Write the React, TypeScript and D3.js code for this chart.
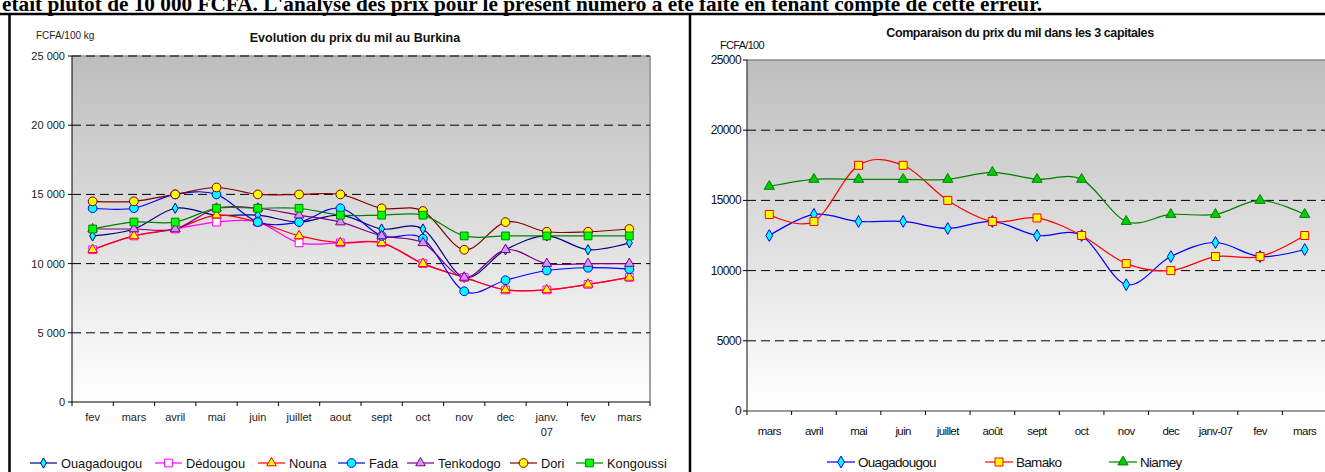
import React from 'react';
import * as d3 from 'd3';

// ---------- Data: left chart (Burkina) ----------
const leftCats = ["fev", "mars", "avril", "mai", "juin", "juillet", "aout", "sept", "oct", "nov", "dec", "janv.|07", "fev", "mars"];
const ouaga = [12000, 12500, 14000, 13500, 13500, 13000, 13500, 12500, 12500, 9000, 11000, 12000, 11000, 11500];
const dedougou = [11000, 12000, 12500, 13000, 13000, 11500, 11500, 11500, 10000, 9000, 8100, 8100, 8500, 9000];
const nouna = [11000, 12000, 12500, 13500, 13000, 12000, 11500, 11500, 10000, 9000, 8100, 8100, 8500, 9000];
const fada = [14000, 14000, 15000, 15000, 13000, 13000, 14000, 12000, 11800, 8000, 8800, 9500, 9700, 9600];
const tenkodogo = [12500, 12500, 12500, 14000, 14000, 13500, 13000, 12000, 11500, 9000, 11000, 10000, 10000, 10000];
const dori = [14500, 14500, 15000, 15500, 15000, 15000, 15000, 14000, 13800, 11000, 13000, 12300, 12300, 12500];
const kongoussi = [12500, 13000, 13000, 14000, 14000, 14000, 13500, 13500, 13500, 12000, 12000, 12000, 12000, 12000];
const leftTicks = [0, 5000, 10000, 15000, 20000, 25000];

// ---------- Data: right chart (3 capitales) ----------
const rightCats = ["mars", "avril", "mai", "juin", "juillet", "août", "sept", "oct", "nov", "dec", "janv-07", "fev", "mars"];
const ouagaR = [12500, 14000, 13500, 13500, 13000, 13500, 12500, 12500, 9000, 11000, 12000, 11000, 11500];
const bamako = [14000, 13500, 17500, 17500, 15000, 13500, 13750, 12500, 10500, 10000, 11000, 11000, 12500];
const niamey = [16000, 16500, 16500, 16500, 16500, 17000, 16500, 16500, 13500, 14000, 14000, 15000, 14000];
const rightTicks = [0, 5000, 10000, 15000, 20000, 25000];

type Series = { name: string; values: number[]; line: string; fill: string; stroke: string; shape: string; size: number };

const leftSeries: Series[] = [
  { name: "Ouagadougou", values: ouaga, line: "#000080", fill: "#00ffff", stroke: "#000080", shape: "diamond", size: 30 },
  { name: "Dédougou", values: dedougou, line: "#ff00ff", fill: "#ffffff", stroke: "#ff00ff", shape: "square", size: 60 },
  { name: "Nouna", values: nouna, line: "#ff0000", fill: "#ffff00", stroke: "#ff0000", shape: "triangle", size: 40 },
  { name: "Fada", values: fada, line: "#0000ff", fill: "#00ffff", stroke: "#0000ff", shape: "circle", size: 60 },
  { name: "Tenkodogo", values: tenkodogo, line: "#800080", fill: "#cc99ff", stroke: "#800080", shape: "triangle", size: 40 },
  { name: "Dori", values: dori, line: "#800000", fill: "#ffff00", stroke: "#800000", shape: "circle", size: 60 },
  { name: "Kongoussi", values: kongoussi, line: "#008000", fill: "#00ff00", stroke: "#008000", shape: "square", size: 60 },
];

const rightSeries: Series[] = [
  { name: "Ouagadougou", values: ouagaR, line: "#0000ff", fill: "#00ffff", stroke: "#0000ff", shape: "diamond", size: 40 },
  { name: "Bamako", values: bamako, line: "#ff0000", fill: "#ffff00", stroke: "#ff0000", shape: "square", size: 64 },
  { name: "Niamey", values: niamey, line: "#008000", fill: "#00cc00", stroke: "#008000", shape: "triangle", size: 45 },
];

const symbolOf = (s: string) =>
  s === "diamond" ? d3.symbolDiamond : s === "square" ? d3.symbolSquare : s === "triangle" ? d3.symbolTriangle : d3.symbolCircle;

const Marker = ({ s, x, y }: { s: Series; x: number; y: number }) => (
  <path
    d={d3.symbol().type(symbolOf(s.shape)).size(s.size)() as string}
    transform={`translate(${x},${y})`}
    fill={s.fill}
    stroke={s.stroke}
    strokeWidth={1}
  />
);

const FONT = "'Liberation Sans', Arial, sans-serif";

function LeftChart() {
  const x = d3.scaleBand<number>().domain(d3.range(leftCats.length)).range([72, 650]);
  const y = d3.scaleLinear().domain([0, 25000]).range([402, 56]);
  const cx = (i: number) => (x(i) as number) + x.bandwidth() / 2;
  const line = d3.line<number>().x((_, i) => cx(i)).y((v) => y(v)).curve(d3.curveCardinal.tension(0));
  const legendX = [30, 155, 258, 338, 407, 510, 576];
  return (
    <g>
      <rect x={72} y={56} width={578} height={346} fill="url(#gradL)" />
      <line x1={72} x2={650} y1={56} y2={56} stroke="#999" strokeWidth={1.5} />
      <line x1={650} x2={650} y1={56} y2={402} stroke="#a0a0a0" strokeWidth={2} />
      {leftTicks.filter((t) => t > 0).map((t) => (
        <line key={t} x1={72} x2={650} y1={y(t)} y2={y(t)} stroke="#000" strokeDasharray="9,5" />
      ))}
      <line x1={72} x2={72} y1={56} y2={402} stroke="#000" />
      <line x1={72} x2={650} y1={402} y2={402} stroke="#000" />
      {leftTicks.map((t) => (
        <g key={t}>
          <line x1={68} x2={72} y1={y(t)} y2={y(t)} stroke="#000" />
          <text x={65} y={y(t) + 4} textAnchor="end" fontSize={11} fontFamily={FONT} fill="#222">
            {t === 0 ? "0" : d3.format(",")(t).replace(",", " ")}
          </text>
        </g>
      ))}
      {d3.range(leftCats.length + 1).map((i) => {
        const xx = i < leftCats.length ? (x(i) as number) : 650;
        return <line key={i} x1={xx} x2={xx} y1={402} y2={406} stroke="#000" />;
      })}
      {leftCats.map((c, i) => (
        <text key={i} x={cx(i)} y={421} textAnchor="middle" fontSize={11} fontFamily={FONT} fill="#222">
          {c.split("|").map((p, k) => (
            <tspan key={k} x={cx(i)} dy={k === 0 ? 0 : 15}>{p}</tspan>
          ))}
        </text>
      ))}
      {leftSeries.map((s) => (
        <path key={s.name} d={line(s.values) as string} fill="none" stroke={s.line} strokeWidth={1.2} />
      ))}
      {leftSeries.map((s) => (
        <g key={s.name}>
          {s.values.map((v, i) => <Marker key={i} s={s} x={cx(i)} y={y(v)} />)}
        </g>
      ))}
      <text x={36} y={39} fontSize={10} fontFamily={FONT} fill="#222">FCFA/100 kg</text>
      <text x={355} y={42} textAnchor="middle" fontSize={12.5} fontWeight="bold" fontFamily={FONT} fill="#111">
        Evolution du prix du mil au Burkina
      </text>
      {leftSeries.map((s, k) => (
        <g key={s.name}>
          <line x1={legendX[k]} x2={legendX[k] + 27} y1={463} y2={463} stroke={s.line} strokeWidth={1.2} />
          <Marker s={s} x={legendX[k] + 13.5} y={463} />
          <text x={legendX[k] + 31} y={467.5} fontSize={12.8} fontFamily={FONT} fill="#111">{s.name}</text>
        </g>
      ))}
    </g>
  );
}

function RightChart() {
  const x = d3.scaleBand<number>().domain(d3.range(rightCats.length)).range([747, 1327]);
  const y = d3.scaleLinear().domain([0, 25000]).range([411, 60]);
  const cx = (i: number) => (x(i) as number) + x.bandwidth() / 2;
  const line = d3.line<number>().x((_, i) => cx(i)).y((v) => y(v)).curve(d3.curveCardinal.tension(0));
  const legendX = [827, 985, 1109];
  return (
    <g>
      <rect x={747} y={60} width={580} height={351} fill="url(#gradR)" />
      <line x1={747} x2={1327} y1={60} y2={60} stroke="#888" strokeWidth={1.5} />
      {rightTicks.filter((t) => t > 0 && t < 25000).map((t) => (
        <line key={t} x1={747} x2={1327} y1={y(t)} y2={y(t)} stroke="#000" strokeDasharray="9,5" />
      ))}
      <line x1={747} x2={747} y1={60} y2={411} stroke="#333" strokeWidth={1.2} />
      <line x1={747} x2={1327} y1={411} y2={411} stroke="#777" strokeWidth={1.5} />
      {rightTicks.map((t) => (
        <g key={t}>
          <line x1={743} x2={747} y1={y(t)} y2={y(t)} stroke="#000" />
          <text x={741} y={y(t) + 4} textAnchor="end" fontSize={12} letterSpacing={-0.6} fontFamily={FONT} fill="#111">
            {String(t)}
          </text>
        </g>
      ))}
      {d3.range(rightCats.length).map((i) => {
        const xx = x(i) as number;
        return <line key={i} x1={xx} x2={xx} y1={411} y2={415} stroke="#000" />;
      })}
      {rightCats.map((c, i) => (
        <text key={i} x={cx(i)} y={435} textAnchor="middle" fontSize={11.5} letterSpacing={-0.6} fontFamily={FONT} fill="#111">
          {c}
        </text>
      ))}
      {rightSeries.map((s) => (
        <path key={s.name} d={line(s.values) as string} fill="none" stroke={s.line} strokeWidth={1.2} />
      ))}
      {rightSeries.map((s) => (
        <g key={s.name}>
          {s.values.map((v, i) => <Marker key={i} s={s} x={cx(i)} y={y(v)} />)}
        </g>
      ))}
      <text x={720} y={49} fontSize={11} letterSpacing={-0.7} fontFamily={FONT} fill="#111">FCFA/100</text>
      <text x={1020} y={37} textAnchor="middle" fontSize={12.5} letterSpacing={-0.4} fontWeight="bold" fontFamily={FONT} fill="#111">
        Comparaison du prix du mil dans les 3 capitales
      </text>
      {rightSeries.map((s, k) => (
        <g key={s.name}>
          <line x1={legendX[k]} x2={legendX[k] + 28} y1={462} y2={462} stroke={s.line} strokeWidth={1.2} />
          <Marker s={s} x={legendX[k] + 14} y={462} />
          <text x={legendX[k] + 31} y={467} fontSize={13.5} letterSpacing={-0.7} fontFamily={FONT} fill="#111">{s.name}</text>
        </g>
      ))}
    </g>
  );
}

export default function App() {
  return (
    <svg width={1325} height={472} style={{ position: "absolute", left: 0, top: 0, background: "#fff" }}>
      <defs>
        <linearGradient id="gradL" x1="0" y1="0" x2="0" y2="1">
          <stop offset="0" stopColor="#bdbdbd" />
          <stop offset="1" stopColor="#ffffff" />
        </linearGradient>
        <linearGradient id="gradR" x1="0" y1="0" x2="0" y2="1">
          <stop offset="0" stopColor="#bdbdbd" />
          <stop offset="1" stopColor="#ffffff" />
        </linearGradient>
      </defs>
      <rect width={1325} height={472} fill="#fff" />
      <text x={2} y={11} fontSize={21} fontWeight="bold" textLength={1040} lengthAdjust="spacingAndGlyphs"
        fontFamily="'Liberation Serif', 'Times New Roman', serif" fill="#000">
        était plutôt de 10 000 FCFA. L'analyse des prix pour le présent numéro a été faite en tenant compte de cette erreur.
      </text>
      <line x1={0} x2={1325} y1={14} y2={14} stroke="#000" strokeWidth={2.5} />
      <line x1={9.5} x2={9.5} y1={13} y2={472} stroke="#000" strokeWidth={2.5} />
      <line x1={690} x2={690} y1={13} y2={472} stroke="#000" strokeWidth={2.5} />
      <LeftChart />
      <RightChart />
    </svg>
  );
}
